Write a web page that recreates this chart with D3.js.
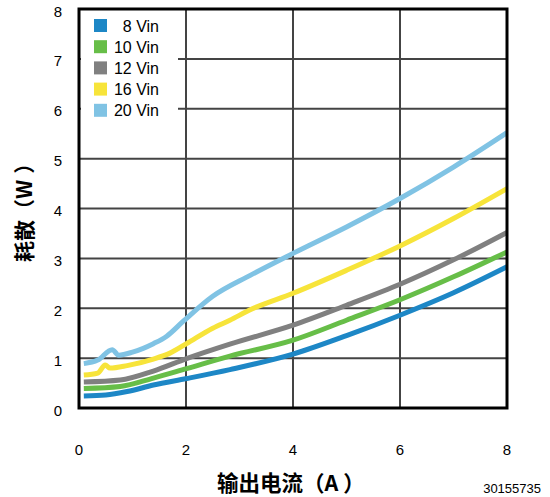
<!DOCTYPE html>
<html><head><meta charset="utf-8">
<script src="https://cdn.jsdelivr.net/npm/d3@7"></script>
<style>body{margin:0;background:#fff}svg{display:block}</style>
</head><body>
<svg id="c" width="550" height="497"></svg>
<script>
const seriesNames = ["8 Vin","10 Vin","12 Vin","16 Vin","20 Vin"];
const seriesColors = ["#1d87c6","#67be48","#808080","#f7e43a","#80c3e4"];
const xTicks = [0,2,4,6,8];
const yTicks = [0,1,2,3,4,5,6,7,8];
const vin8 = [[0.09,0.24],[0.5,0.26],[0.9,0.33],[1.39,0.46],[2.01,0.59],[2.82,0.77],[4,1.08],[5,1.45],[6,1.86],[7,2.31],[8,2.83]];
const vin10 = [[0.09,0.39],[0.77,0.43],[1.39,0.6],[2.01,0.79],[2.82,1.04],[4,1.36],[5,1.76],[6,2.17],[7,2.63],[8,3.13]];
const vin12 = [[0.09,0.52],[0.77,0.56],[1.39,0.74],[2.01,0.99],[2.82,1.28],[4,1.66],[5,2.06],[6,2.48],[7,2.97],[8,3.52]];
const vin16 = [[0.09,0.66],[0.35,0.7],[0.49,0.86],[0.58,0.8],[0.9,0.85],[1.39,0.98],[1.7,1.1],[2.01,1.29],[2.5,1.6],[2.82,1.76],[3.2,1.97],[4,2.3],[5,2.76],[6,3.25],[7,3.8],[8,4.4]];
const vin20 = [[0.09,0.89],[0.35,0.96],[0.62,1.17],[0.74,1.06],[1.0,1.12],[1.39,1.29],[1.64,1.44],[1.95,1.74],[2.5,2.24],[3.2,2.66],[4,3.1],[5,3.63],[6,4.2],[7,4.83],[8,5.52]];
const seriesData = [vin8,vin10,vin12,vin16,vin20];

const svg = d3.select("#c");
const x = d3.scaleLinear().domain([0,8]).range([79,507]);
const y = d3.scaleLinear().domain([0,8]).range([408,9]);
const font = "'Liberation Sans', Arial, sans-serif";
const cjk = "'Noto Sans CJK SC', sans-serif";

// grid
svg.append("g").selectAll("line.v").data(xTicks.slice(1,-1)).join("line")
  .attr("x1",d=>x(d)).attr("x2",d=>x(d)).attr("y1",y(8)).attr("y2",y(0))
  .attr("stroke","#444").attr("stroke-width",2);
svg.append("g").selectAll("line.h").data(yTicks.slice(1,-1)).join("line")
  .attr("x1",x(0)).attr("x2",x(8)).attr("y1",d=>y(d)).attr("y2",d=>y(d))
  .attr("stroke","#444").attr("stroke-width",2);

// legend background
svg.append("rect").attr("x",81).attr("y",11).attr("width",97).attr("height",114).attr("fill","#fff");

// lines
const line = d3.line().x(d=>x(d[0])).y(d=>y(d[1])).curve(d3.curveMonotoneX);
svg.append("g").selectAll("path").data(seriesData).join("path")
  .attr("d",line).attr("fill","none")
  .attr("stroke",(d,i)=>seriesColors[i]).attr("stroke-width",5)
  .attr("stroke-linejoin","round");

// frame
svg.append("rect").attr("x",x(0)).attr("y",y(8)).attr("width",x(8)-x(0)).attr("height",y(0)-y(8))
  .attr("fill","none").attr("stroke","#000").attr("stroke-width",3);

// tick labels
svg.append("g").selectAll("text").data(yTicks).join("text")
  .attr("x",62).attr("y",d=>y(d)+7.5).attr("text-anchor","end")
  .attr("font-family",font).attr("font-size",15).text(d=>d);
svg.append("g").selectAll("text").data(xTicks).join("text")
  .attr("x",d=>x(d)).attr("y",455).attr("text-anchor","middle")
  .attr("font-family",font).attr("font-size",15).text(d=>d);

// legend
const lg = svg.append("g").selectAll("g").data(seriesNames).join("g")
  .attr("transform",(d,i)=>`translate(0,${i*21.2})`);
lg.append("rect").attr("x",94).attr("y",19).attr("width",13).attr("height",13)
  .attr("fill",(d,i)=>seriesColors[i]);
lg.append("text").attr("x",159).attr("y",31.5).attr("text-anchor","end")
  .attr("font-family",font).attr("font-size",16).text(d=>d);

// axis titles
const xt = svg.append("text").attr("x",217).attr("y",491)
  .attr("font-family",cjk).attr("font-weight","bold").attr("font-size",21.5);
xt.append("tspan").text("输出电流（A");
xt.append("tspan").attr("dx",5).text("）");
const yt = svg.append("text").attr("transform","translate(32,262) rotate(-90)")
  .attr("font-family",cjk).attr("font-weight","bold").attr("font-size",21);
yt.append("tspan").text("耗散（W");
yt.append("tspan").attr("dx",6).text("）");
svg.append("text").attr("x",541).attr("y",493).attr("text-anchor","end")
  .attr("font-family",font).attr("font-size",13).text("30155735");
</script>
</body></html>
